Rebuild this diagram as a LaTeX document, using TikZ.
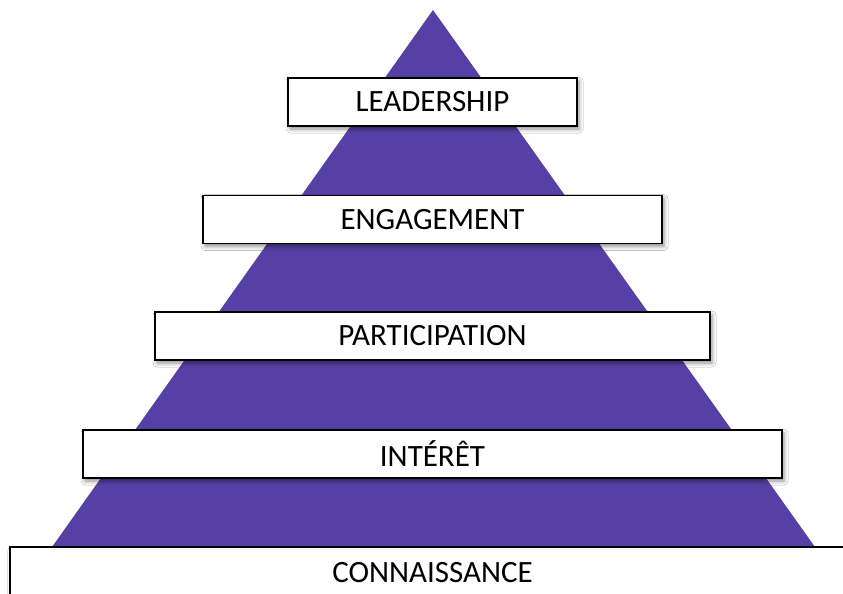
\documentclass[tikz,border=0pt]{standalone}
\usepackage{fontspec}
\setmainfont{Carlito}
\usetikzlibrary{shadows.blur}

\definecolor{violet}{RGB}{86,64,166}

\begin{document}
\begin{tikzpicture}[x=1pt, y=-1pt, line join=miter,
	niveau/.style={draw=black, line width=1.6pt, fill=white, inner sep=0pt, outer sep=0pt, minimum height=48pt,
		font=\fontsize{31}{36}\selectfont,
		blur shadow={shadow xshift=2pt, shadow yshift=-3pt, shadow blur radius=4pt, shadow opacity=45}}]

	\useasboundingbox (0,0) rectangle (843,594);
	\clip (0,0) rectangle (843,594);
	\fill[white] (0,0) rectangle (843,594);

	% La pyramide
	\coordinate (sommet) at (433,10);
	\coordinate (baseG) at (52,547);
	\coordinate (baseD) at (815,547);
	\fill[violet] (sommet) -- (baseD) -- (baseG) -- cycle;

	% Les niveaux, du haut vers le bas
	\node[niveau, minimum width=289pt] (leadership) at (432.5,102) {LEADERSHIP};
	\node[niveau, minimum width=459pt] (engagement) at (432.5,219.5) {ENGAGEMENT};
	\node[niveau, minimum width=555pt] (participation) at (432.5,336) {PARTICIPATION};
	\node[niveau, minimum width=699pt] (interet) at (432.5,454) {INTÉRÊT};
	\node[niveau, minimum width=845pt, minimum height=52pt] (connaissance) at (432.5,573) {CONNAISSANCE};
\end{tikzpicture}
\end{document}
